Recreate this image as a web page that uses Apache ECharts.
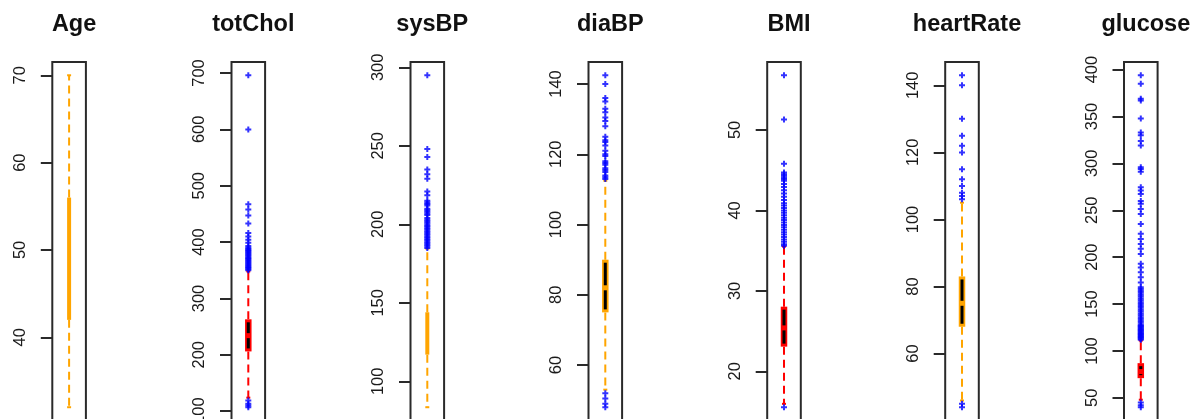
<!DOCTYPE html>
<html><head><meta charset="utf-8">
<script src="https://cdn.jsdelivr.net/npm/echarts@6/dist/echarts.min.js"></script>
<style>html,body{margin:0;padding:0;background:#fff}#c{width:1190px;height:419px}</style>
</head><body><div id="c"></div>
<script>
const titles = ['Age', 'totChol', 'sysBP', 'diaBP', 'BMI', 'heartRate', 'glucose'];

// [lower whisker, Q1, median, Q3, upper whisker]
const ageStats = [32, 42, 49, 56, 70];
const totCholStats = [124, 206, 234, 263, 348];
const sysBPStats = [83.5, 117, 128, 144, 184.5];
const diaBPStats = [53, 75, 82, 90, 112.5];
const bmiStats = [15.96, 23.07, 25.4, 28.04, 35.5];
const heartRateStats = [46, 68, 75, 83, 105];
const glucoseStats = [48, 71, 78, 87, 111];

// outliers
const ageOutliers = [];
const totCholOutliers = [696, 600, 467, 458, 447, 433, 416, 410, 404, 399, 393, 390, 388, 386, 384, 382, 380, 378, 376, 374, 372, 370, 368, 366, 364, 362, 360, 358, 356, 354, 352, 350, 107, 110, 113, 119];
const sysBPOutliers = [295, 248, 243, 235, 232, 229, 221, 218.5, 215, 214, 213, 212, 210, 209, 208, 207, 206, 204, 203, 202, 201, 200, 199, 198, 197, 196, 195, 194, 193, 192, 191, 190, 189, 188, 187, 186, 185];
const diaBPOutliers = [142.5, 140, 136, 135, 133, 132, 130.5, 129.5, 128, 125, 124, 123.5, 122.5, 121, 120, 119.5, 118, 117.5, 117, 116, 115.5, 115, 114, 113.5, 113, 52, 50.5, 49, 48];
const bmiOutliers = [56.8, 51.3, 45.8, 44.7, 44.5, 44.3, 44.1, 43.9, 43.7, 43.3, 42.9, 42.5, 42.1, 41.7, 41.3, 40.9, 40.6, 40.3, 40, 39.7, 39.4, 39.1, 38.8, 38.5, 38.2, 37.9, 37.6, 37.3, 37, 36.7, 36.4, 36.1, 35.8, 35.6, 15.54];
const heartRateOutliers = [143, 140, 130, 125, 122, 120, 115, 112, 110, 108, 107, 106, 45, 44];
const glucoseOutliers = [394, 385, 369, 367, 348, 333, 330, 324, 319, 296, 294, 291, 274.5, 271, 267.5, 260, 257, 251.5, 246, 235.5, 225, 219.5, 214, 209, 203.5, 193, 189, 184, 178.5, 173, 168, 166, 164, 162, 160, 158, 156, 154, 152, 150, 148, 146, 144, 142, 140, 138, 136, 134, 132, 130, 128, 127, 126, 125, 124, 123, 122, 121, 120, 119, 118, 117, 116, 115, 114, 113, 112, 45, 42, 40];

// tick labels
const ageTicks = [40, 50, 60, 70];
const totCholTicks = [100, 200, 300, 400, 500, 600, 700];
const sysBPTicks = [100, 150, 200, 250, 300];
const diaBPTicks = [60, 80, 100, 120, 140];
const bmiTicks = [20, 30, 40, 50];
const heartRateTicks = [60, 80, 100, 120, 140];
const glucoseTicks = [50, 100, 150, 200, 250, 300, 350, 400];

const allStats = [ageStats, totCholStats, sysBPStats, diaBPStats, bmiStats, heartRateStats, glucoseStats];
const allOutliers = [ageOutliers, totCholOutliers, sysBPOutliers, diaBPOutliers, bmiOutliers, heartRateOutliers, glucoseOutliers];
const allTicks = [ageTicks, totCholTicks, sysBPTicks, diaBPTicks, bmiTicks, heartRateTicks, glucoseTicks];

// styling / layout (not data)
const ORANGE = '#FFA500', RED = '#FF0000', BLUE = '#0000FF';
const panelColor = [ORANGE, RED, ORANGE, ORANGE, RED, ORANGE, RED];
const panelBlackLine = [false, true, false, true, true, true, true];
const panelLeft = [52.3, 231.5, 410.5, 588.5, 767.2, 945.2, 1124];
const PANEL_W = 33.6, PANEL_TOP = 62, PANEL_H = 358.5;

function makeRender(color, withBlack) {
  const boxW = withBlack ? 6.5 : 4;
  return function (params, api) {
    const p = v => api.coord([0, v]);
    const xc = p(api.value(1))[0];
    const yMin = p(api.value(1))[1], yQ1 = p(api.value(2))[1], yMed = p(api.value(3))[1],
          yQ3 = p(api.value(4))[1], yMax = p(api.value(5))[1];
    const dash = { stroke: color, lineWidth: 2, lineDash: [8, 5], fill: null };
    const solid = { stroke: color, lineWidth: 2, fill: null };
    const children = [
      { type: 'line', shape: { x1: xc, y1: yQ3, x2: xc, y2: yMax }, style: dash },
      { type: 'line', shape: { x1: xc, y1: yQ1, x2: xc, y2: yMin }, style: dash },
      { type: 'line', shape: { x1: xc - 2, y1: yMax, x2: xc + 2, y2: yMax }, style: solid },
      { type: 'line', shape: { x1: xc - 2, y1: yMin, x2: xc + 2, y2: yMin }, style: solid },
      { type: 'rect', shape: { x: xc - boxW / 2, y: yQ3, width: boxW, height: yQ1 - yQ3 }, style: { fill: color } }
    ];
    if (withBlack) {
      children.push({ type: 'line', shape: { x1: xc, y1: yQ3 + 3, x2: xc, y2: yMed - 2.5 }, style: { stroke: '#000', lineWidth: 3 } });
      children.push({ type: 'line', shape: { x1: xc, y1: yMed + 2.5, x2: xc, y2: yQ1 - 3 }, style: { stroke: '#000', lineWidth: 3 } });
    }
    return { type: 'group', children };
  };
}

const grid = [], xAxis = [], yAxis = [], series = [], title = [];
const plusPath = 'path://M2,0H4V2H6V4H4V6H2V4H0V2H2Z';

titles.forEach((name, i) => {
  const st = allStats[i], out = allOutliers[i];
  const lo = Math.min(st[0], ...out), hi = Math.max(st[4], ...out);
  const pad = 0.04 * (hi - lo);
  grid.push({
    left: panelLeft[i], top: PANEL_TOP, width: PANEL_W, height: PANEL_H,
    show: true, borderColor: '#2a2a2a', borderWidth: 2, backgroundColor: 'transparent',
    containLabel: false, outerBoundsMode: 'none'
  });
  xAxis.push({ type: 'category', gridIndex: i, data: [name], show: false });
  yAxis.push({
    type: 'value', gridIndex: i, min: lo - pad, max: hi + pad,
    axisLine: { show: false },
    splitLine: { show: false },
    axisTick: { show: true, length: 11.5, lineStyle: { color: '#2a2a2a', width: 2 }, customValues: allTicks[i] },
    axisLabel: {
      rotate: 90, margin: 24, fontSize: 16.4, fontFamily: 'Liberation Sans', color: '#1a1a1a',
      customValues: allTicks[i]
    }
  });
  series.push({
    type: 'custom', xAxisIndex: i, yAxisIndex: i,
    data: [[0, ...st]], encode: { x: 0, y: [1, 2, 3, 4, 5] },
    renderItem: makeRender(panelColor[i], panelBlackLine[i]), z: 2
  });
  series.push({
    type: 'scatter', xAxisIndex: i, yAxisIndex: i,
    data: out.map(v => [0, v]), symbol: plusPath, symbolSize: 6,
    itemStyle: { color: BLUE }, z: 3
  });
  title.push({
    text: name, left: panelLeft[i] + PANEL_W / 2, top: 8, textAlign: 'center',
    textStyle: { fontSize: 23.5, fontWeight: 'bold', fontFamily: 'Liberation Sans', color: '#111' }
  });
});

const chart = echarts.init(document.getElementById('c'), null, { renderer: 'canvas' });
chart.setOption({ animation: false, backgroundColor: '#fff', title, grid, xAxis, yAxis, series });
</script></body></html>
